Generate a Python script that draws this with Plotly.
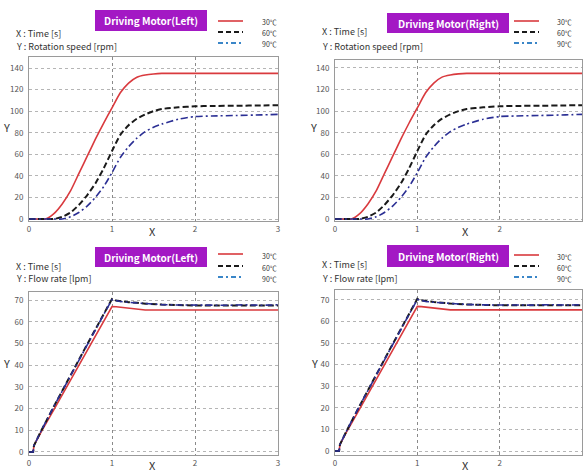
import plotly.graph_objects as go

# ---------------- data ----------------
t_speed = [0, 0.1, 0.2, 0.3, 0.4, 0.5, 0.6, 0.7, 0.8, 0.9, 1.0, 1.1, 1.2, 1.3, 1.4, 1.5, 1.6, 1.8, 2.0, 2.2, 2.5, 2.8, 3.0]
speed_30 = [0, 0, 0, 5, 14, 26, 42, 58, 74, 89, 103, 117, 126, 131.5, 133.5, 134.5, 135, 135, 135, 135, 135, 135, 135]
speed_60 = [0, 0, 0, 0, 2, 6, 13, 22, 33, 47, 63, 78, 87, 93, 97, 100, 102, 103.5, 104.5, 104.8, 105, 105.3, 105.5]
speed_90 = [0, 0, 0, 0, 0, 2, 6, 12, 20, 30, 43, 57, 67, 75, 81, 85, 88, 92.5, 95, 95.5, 96, 96.5, 97]

t_flow = [0, 0.05, 0.06, 0.1, 0.15, 0.3, 0.5, 0.7, 0.9, 1.0, 1.05, 1.1, 1.2, 1.3, 1.4, 1.6, 1.8, 2.0, 2.2, 2.4, 2.6, 2.8, 3.0]
flow_30 = [0, 0, 3, 6, 9.5, 19.5, 33, 46.5, 60, 67, 66.9, 66.7, 66.1, 65.6, 65.4, 65.4, 65.4, 65.4, 65.4, 65.4, 65.4, 65.4, 65.4]
flow_60 = [0, 0, 3, 6.3, 10, 21, 35.5, 49.5, 63.5, 70.5, 69.8, 69.5, 69.0, 68.7, 68.3, 67.9, 67.6, 67.5, 67.5, 67.5, 67.5, 67.5, 67.5]
flow_90 = [0, 0, 3, 6.2, 10, 21, 35.3, 49.3, 63.3, 70.2, 69.6, 69.3, 68.9, 68.6, 68.2, 67.9, 67.7, 67.6, 67.8, 67.6, 67.8, 67.6, 67.8]

temps = ["30℃", "60℃", "90℃"]
x_ticks = [0, 1, 2, 3]
speed_ticks = [0, 20, 40, 60, 80, 100, 120, 140]
flow_ticks = [0, 10, 20, 30, 40, 50, 60, 70]

W, H = 584, 470
FONT = "Noto Sans CJK KR"

def px(x):
    return x / W

def py(y):
    return 1 - y / H

red = "#d93a3e"
black = "#1a1a1a"
navy = "#2b2f94"
leg_blue = "#3a86c8"
purple = "#a318c4"

styles = [dict(color=red, width=1.6, dash="solid"),
          dict(color=black, width=2.0, dash="6px,3px"),
          dict(color=navy, width=1.6, dash="7px,3px,2px,3px")]

fig = go.Figure()

panels = [
    dict(xd=(29, 278), top=57, bot=221, yr=(-1.85, 150.2), ticks=speed_ticks, t=t_speed, s=[speed_30, speed_60, speed_90]),
    dict(xd=(335, 582), top=60, bot=221, yr=(-1.85, 147.4), ticks=speed_ticks, t=t_speed, s=[speed_30, speed_60, speed_90]),
    dict(xd=(29, 278), top=292, bot=455, yr=(-1.4, 73.7), ticks=flow_ticks, t=t_flow, s=[flow_30, flow_60, flow_90]),
    dict(xd=(335, 582), top=290, bot=455, yr=(-1.85, 74.6), ticks=flow_ticks, t=t_flow, s=[flow_30, flow_60, flow_90]),
]

layout = {}
for i, p in enumerate(panels):
    n = "" if i == 0 else str(i + 1)
    for j, (ser, st) in enumerate(zip(p["s"], styles)):
        fig.add_trace(go.Scatter(
            x=p["t"], y=ser, mode="lines", name=temps[j],
            line=dict(color=st["color"], width=st["width"], dash=st["dash"],
                      shape="spline" if p["ticks"] is speed_ticks else "linear", smoothing=0.6),
            xaxis="x" + n, yaxis="y" + n, showlegend=False, hoverinfo="skip"))
    axcommon = dict(showline=True, linecolor="#9a9a9a", linewidth=1, mirror=True,
                    gridcolor="#b5b5b5", griddash="dot", gridwidth=1, automargin=False,
                    zeroline=False, ticks="", tickfont=dict(family=FONT, size=8, color="#555"))
    layout["xaxis" + n] = dict(axcommon, domain=[px(p["xd"][0]), px(p["xd"][1])],
                               range=[0, 3], tickvals=x_ticks, anchor="y" + n,
                               gridcolor="#8a8a8a")
    layout["yaxis" + n] = dict(axcommon, domain=[py(p["bot"]), py(p["top"])],
                               range=list(p["yr"]), tickvals=p["ticks"], anchor="x" + n,
                               ticklabelstandoff=3)

fig.update_layout(**layout)

shapes = []
annotations = []

def txt(x, y, s, size=9, color="#333", xanchor="left", bold=False):
    annotations.append(dict(x=px(x), y=py(y), xref="paper", yref="paper", text=("<b>%s</b>" % s) if bold else s,
                            showarrow=False, xanchor=xanchor, yanchor="middle",
                            font=dict(family=FONT, size=size, color=color)))

headers = [
    dict(box=(95, 10, 207, 31), title="Driving Motor(Left)", leg=(218, 243, 260), rows=(21, 32, 43),
         xt=(14, 33), yt=(14, 47), ylabel="Y : Rotation speed [rpm]", X=(152, 231), Y=(6, 127)),
    dict(box=(387, 13, 509, 33), title="Driving Motor(Right)", leg=(514, 539, 555), rows=(21, 32, 43),
         xt=(320, 32), yt=(320, 47), ylabel="Y : Rotation speed [rpm]", X=(465, 231), Y=(313, 127)),
    dict(box=(95, 247, 207, 267), title="Driving Motor(Left)", leg=(218, 243, 260), rows=(254, 266, 277),
         xt=(14, 266), yt=(14, 278), ylabel="Y : Flow rate [lpm]", X=(152, 465), Y=(6, 363)),
    dict(box=(387, 245, 509, 267), title="Driving Motor(Right)", leg=(514, 539, 555), rows=(255, 266, 277),
         xt=(320, 264), yt=(320, 278), ylabel="Y : Flow rate [lpm]", X=(465, 465), Y=(314, 363)),
]

leg_styles = [dict(color=red, width=1.6, dash="solid"),
              dict(color=black, width=2.2, dash="5px,3px"),
              dict(color=leg_blue, width=1.8, dash="5px,3px,2px,3px")]

for h in headers:
    x0, y0, x1, y1 = h["box"]
    shapes.append(dict(type="rect", xref="paper", yref="paper", x0=px(x0), x1=px(x1), y0=py(y1), y1=py(y0),
                       fillcolor=purple, line=dict(width=0), layer="above"))
    txt((x0 + x1) / 2, (y0 + y1) / 2, h["title"], size=10, color="white", xanchor="center", bold=True)
    lx0, lx1, lt = h["leg"]
    for k, r in enumerate(h["rows"]):
        shapes.append(dict(type="line", xref="paper", yref="paper", x0=px(lx0), x1=px(lx1), y0=py(r), y1=py(r),
                           line=leg_styles[k]))
        txt(lt, r + 1.5, temps[k], size=7, color="#333")
    txt(h["xt"][0], h["xt"][1], "X : Time [s]", size=9, color="#333")
    txt(h["yt"][0], h["yt"][1], h["ylabel"], size=9, color="#333")
    txt(h["X"][0], h["X"][1], "X", size=11, color="#333", xanchor="center")
    txt(h["Y"][0], h["Y"][1], "Y", size=11, color="#333", xanchor="center")

fig.update_layout(width=W, height=H, margin=dict(l=0, r=0, t=0, b=0, autoexpand=False),
                  paper_bgcolor="white", plot_bgcolor="white",
                  shapes=shapes, annotations=annotations, showlegend=False)

fig.write_html("out.html", config={"displayModeBar": False},
               post_script="document.body.style.margin='0px';document.body.style.overflow='hidden';")
